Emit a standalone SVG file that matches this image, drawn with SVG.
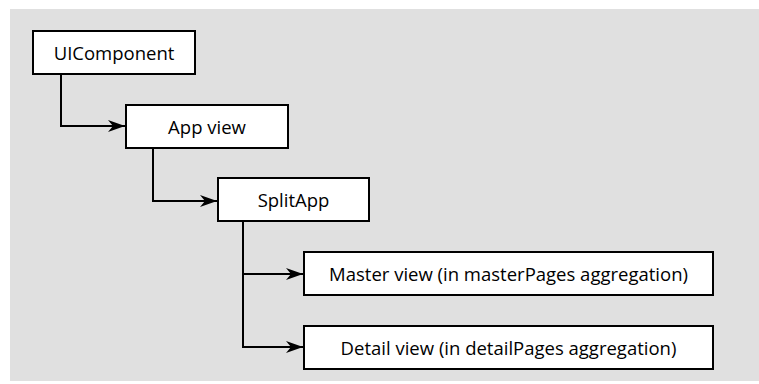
<svg xmlns="http://www.w3.org/2000/svg" width="759" height="384" viewBox="0 0 759 384">
<defs>
<style>
.box{fill:#fff;stroke:#000;stroke-width:2}
.lbl{font-family:"Open Sans","Noto Sans","Liberation Sans",sans-serif;font-size:18.5px;fill:#000;text-anchor:middle;dominant-baseline:central}
.con{fill:none;stroke:#000;stroke-width:2}
</style>
<marker id="arr" markerWidth="18" markerHeight="14" refX="17" refY="7" orient="auto" markerUnits="userSpaceOnUse" overflow="visible">
<path d="M0,1 L17,7 L0,13 L5,7 Z" fill="#000"/>
</marker>
</defs>
<rect x="10" y="9" width="749" height="372" fill="#e0e0e0"/>
<g id="connectors">
<path class="con" d="M61,74 V126 H125" marker-end="url(#arr)"/>
<path class="con" d="M153,148 V201 H217" marker-end="url(#arr)"/>
<path class="con" d="M243,221 V347 H303" marker-end="url(#arr)"/>
<path class="con" d="M243,274 H303" marker-end="url(#arr)"/>
</g>
<g id="uicomponent">
<rect class="box" x="33" y="31" width="162" height="43"/>
<text class="lbl" x="114" y="52">UIComponent</text>
</g>
<g id="appview">
<rect class="box" x="126" y="105" width="162" height="43"/>
<text class="lbl" x="207" y="126">App view</text>
</g>
<g id="splitapp">
<rect class="box" x="218" y="178" width="151" height="43"/>
<text class="lbl" x="293.5" y="199">SplitApp</text>
</g>
<g id="master">
<rect class="box" x="304" y="252" width="409" height="43"/>
<text class="lbl" x="508.5" y="273">Master view (in masterPages aggregation)</text>
</g>
<g id="detail">
<rect class="box" x="304" y="326" width="409" height="43"/>
<text class="lbl" x="508.5" y="347">Detail view (in detailPages aggregation)</text>
</g>
</svg>
